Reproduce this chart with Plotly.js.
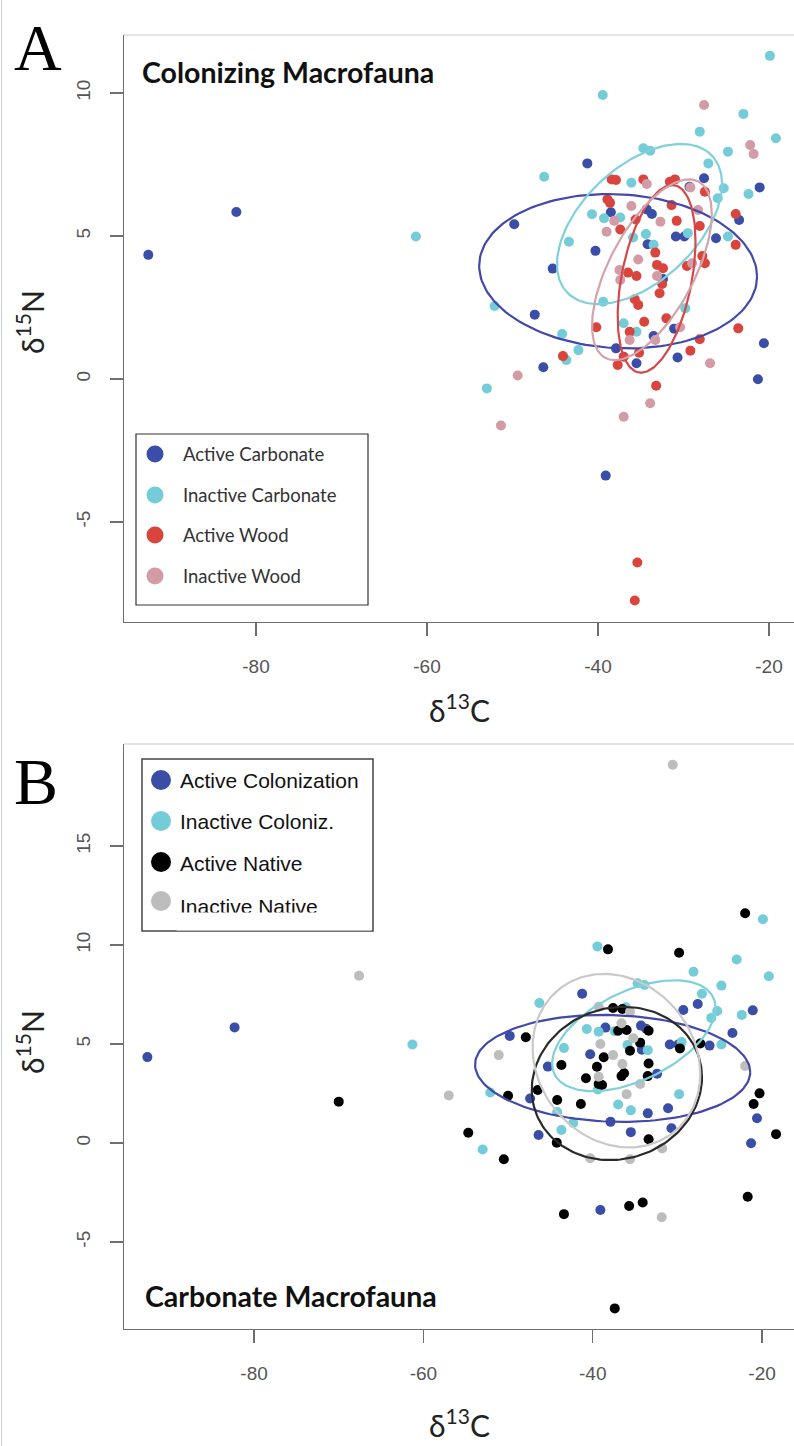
<!DOCTYPE html>
<html><head><meta charset="utf-8">
<script src="https://cdn.plot.ly/plotly-3.0.1.min.js"></script>
<style>
html,body{margin:0;padding:0;background:#fff;overflow:hidden}
#chart{position:absolute;left:0;top:0;width:794px;height:1446px}
#edge{position:absolute;left:1px;top:0;width:1px;height:1446px;background:#cfcfcf}
</style>
</head><body>
<div id="chart"></div><div id="edge"></div>
<script>
// ---------------- DATA ----------------
// Panel A: Colonizing Macrofauna
const seriesA = ["Active Carbonate", "Inactive Carbonate", "Active Wood", "Inactive Wood"];
const colorsA = ["#3a4ea8", "#74ccd9", "#d9443d", "#d29ba5"];

const activeCarbX = [-92.6,-82.3,-49.8,-45.3,-47.4,-46.4,-41.25,-27.6,-21.1,-29.3,-38.5,-34.3,-33.7,-23.5,-40.3,-34.2,-30.9,-29.9,-26.2,-32.4,-31.1,-33.5,-37.9,-35.5,-30.7,-20.6,-21.3,-39.1];
const activeCarbY = [4.34,5.84,5.41,3.86,2.25,0.41,7.54,7.02,6.70,6.72,5.83,5.93,5.77,5.56,4.48,4.71,4.98,4.98,4.92,3.50,1.76,1.50,1.07,0.55,0.75,1.25,-0.01,-3.38];

const inactCarbX = [-61.3,-52.1,-53.0,-46.3,-39.45,-19.9,-23.0,-28.1,-19.2,-34.7,-33.9,-24.8,-27.1,-36.1,-25.3,-22.4,-26.0,-40.7,-39.3,-37.4,-43.4,-35.9,-34.4,-33.5,-29.5,-24.8,-39.4,-37.0,-35.5,-29.8,-44.2,-42.3,-43.7];
const inactCarbY = [4.98,2.55,-0.33,7.07,9.93,11.3,9.27,8.65,8.42,8.07,7.98,7.95,7.54,6.86,6.67,6.47,6.32,5.76,5.62,5.65,4.80,4.95,5.07,4.69,5.10,4.98,2.70,1.95,1.65,2.47,1.57,1.01,0.66];

const activeWoodX = [-38.4,-37.9,-34.7,-31.6,-31.0,-27.5,-38.9,-38.6,-31.4,-23.9,-35.6,-37.4,-30.8,-28.1,-23.9,-33.3,-27.8,-33.1,-32.4,-29.6,-27.5,-36.5,-35.5,-32.5,-32.8,-35.7,-35.3,-34.6,-32.0,-40.2,-36.3,-23.6,-28.1,-29.2,-44.1,-37.0,-37.7,-35.2,-33.2,-35.4,-35.7];
const activeWoodY = [6.98,6.96,6.98,6.90,6.98,6.55,6.28,6.16,6.08,5.77,5.58,5.23,5.53,5.35,4.69,4.42,4.30,3.99,3.87,3.95,4.05,3.72,3.60,3.32,3.00,2.79,2.59,2.00,2.12,1.81,1.65,1.77,1.39,0.99,0.80,0.78,0.49,0.92,-0.24,-6.42,-7.75];

const inactWoodX = [-27.6,-22.2,-21.8,-34.3,-29.2,-36.1,-28.3,-38.1,-39.0,-32.7,-35.3,-37.5,-37.4,-33.1,-29.0,-30.4,-36.3,-33.3,-26.9,-49.4,-51.35,-37.0,-33.9];
const inactWoodY = [9.58,8.18,7.87,6.82,6.70,6.05,5.91,5.53,5.15,5.50,4.18,3.81,3.46,3.60,4.05,1.81,1.36,1.36,0.55,0.12,-1.63,-1.32,-0.85];

// Panel B: Carbonate Macrofauna (colonizers reuse the carbonate series above)
const seriesB = ["Active Colonization", "Inactive Coloniz.", "Active Native", "Inactive Native"];
const colorsB = ["#3a4ea8", "#74ccd9", "#000000", "#bdbdbd"];

const activeNatX = [-70.0,-22.0,-38.2,-29.8,-37.6,-36.5,-47.9,-37.0,-36.0,-33.4,-34.4,-35.6,-38.7,-29.7,-27.3,-33.4,-39.5,-43.7,-40.8,-39.3,-38.9,-36.6,-36.3,-33.5,-46.5,-50.0,-44.2,-41.4,-20.3,-21.0,-54.7,-44.25,-33.4,-50.5,-18.35,-43.4,-35.7,-34.1,-21.7,-37.4];
const activeNatY = [2.09,11.6,9.78,9.61,6.82,6.77,5.34,5.67,5.71,5.67,5.07,4.66,4.33,4.78,5.03,4.02,3.85,3.94,3.27,2.98,2.93,3.38,3.52,3.38,2.68,2.39,2.17,1.97,2.51,1.97,0.52,0.02,0.19,-0.82,0.45,-3.59,-3.18,-3.00,-2.71,-8.35];

const inactNatX = [-30.55,-67.6,-57.0,-51.1,-39.3,-35.6,-36.6,-39.1,-35.2,-37.6,-36.5,-39.3,-34.4,-36.0,-22.0,-31.8,-40.3,-35.6,-31.85];
const inactNatY = [19.1,8.45,2.4,4.44,6.88,6.63,6.05,5.0,5.29,4.44,3.99,3.35,2.98,2.47,3.89,-0.27,-0.77,-0.82,-3.75];

// Standard ellipses (centre, spread, correlation)
const ellA_cx  = [-37.65, -35.15, -33.15, -33.7];
const ellA_cy  = [3.77, 5.42, 3.50, 3.82];
const ellA_sx  = [16.25, 9.65, 4.55, 7.0];
const ellA_sy  = [2.70, 2.80, 3.28, 3.16];
const ellA_rho = [-0.07, 0.50, 0.40, 0.62];

const ellB_cx  = [-37.65, -35.15, -37.15, -37.2];
const ellB_cy  = [3.77, 5.42, 3.01, 4.16];
const ellB_sx  = [16.25, 9.65, 10.05, 9.9];
const ellB_sy  = [2.70, 2.80, 3.87, 4.38];
const ellB_rho = [-0.07, 0.50, 0.08, -0.15];
const ellColorsA = ["#4249a8", "#7fd0dc", "#d6474a", "#d3a3ab"];
const ellColorsB = ["#4249a8", "#7fd0dc", "#2a2a2a", "#c9c9c9"];

const xTickVals = [-80, -60, -40, -20];
const xTickText = ["-80", "-60", "-40", "-20"];
const yTickValsA = [-5, 0, 5, 10];
const yTickTextA = ["-5", "0", "5", "10"];
const yTickValsB = [-5, 0, 5, 10, 15];
const yTickTextB = ["-5", "0", "5", "10", "15"];

// ---------------- LAYOUT GEOMETRY ----------------
const W = 794, H = 1446, ML = 124, MR = 0, MT = 35, MB = 117;
const PW = W - ML - MR, PH = H - MT - MB;
const pxX = x => (x - ML) / PW;
const pxY = y => (H - MB - y) / PH;

function ellipse(cx, cy, sx, sy, rho) {
  const xs = [], ys = [], n = 160, s = Math.sqrt(1 - rho * rho);
  for (let i = 0; i <= n; i++) {
    const t = 2 * Math.PI * i / n;
    xs.push(cx + sx * Math.cos(t));
    ys.push(cy + sy * (rho * Math.cos(t) + s * Math.sin(t)));
  }
  return {xs, ys};
}

const traces = [];
function pts(x, y, color, xa, ya, size) {
  traces.push({type: 'scatter', mode: 'markers', x, y, xaxis: xa, yaxis: ya,
    marker: {color, size: size, line: {width: 0}}, showlegend: false, hoverinfo: 'x+y'});
}
const dataA = [[activeCarbX, activeCarbY], [inactCarbX, inactCarbY], [activeWoodX, activeWoodY], [inactWoodX, inactWoodY]];
dataA.forEach((d, i) => pts(d[0], d[1], colorsA[i], 'x', 'y', 10));
for (let i = 0; i < 4; i++) {
  const e = ellipse(ellA_cx[i], ellA_cy[i], ellA_sx[i], ellA_sy[i], ellA_rho[i]);
  traces.push({type: 'scatter', mode: 'lines', x: e.xs, y: e.ys, xaxis: 'x', yaxis: 'y',
    line: {color: ellColorsA[i], width: 2.2}, showlegend: false, hoverinfo: 'skip'});
}
const dataB = [[activeCarbX, activeCarbY], [inactCarbX, inactCarbY], [activeNatX, activeNatY], [inactNatX, inactNatY]];
dataB.forEach((d, i) => pts(d[0], d[1], colorsB[i], 'x2', 'y2', 10));
for (let i = 0; i < 4; i++) {
  const e = ellipse(ellB_cx[i], ellB_cy[i], ellB_sx[i], ellB_sy[i], ellB_rho[i]);
  traces.push({type: 'scatter', mode: 'lines', x: e.xs, y: e.ys, xaxis: 'x2', yaxis: 'y2',
    line: {color: ellColorsB[i], width: 2.2}, showlegend: false, hoverinfo: 'skip'});
}

const axCommon = {
  showline: true, linecolor: '#6f6f6f', linewidth: 1.2, mirror: false,
  ticks: 'outside', ticklen: 13, tickcolor: '#6f6f6f', tickwidth: 1.2,
  showgrid: false, zeroline: false, fixedrange: true, tickmode: 'array',
  tickfont: {family: 'Liberation Sans, Arial, sans-serif', size: 19, color: '#555'}
};

const shapes = [];
const annotations = [];
// top frame lines
shapes.push({type: 'line', xref: 'paper', yref: 'paper', x0: 0, x1: 1.01, y0: pxY(35), y1: pxY(35), line: {color: '#c8c8c8', width: 1.2}});
shapes.push({type: 'line', xref: 'paper', yref: 'paper', x0: 0, x1: 1.01, y0: pxY(744), y1: pxY(744), line: {color: '#c8c8c8', width: 1.2}});

function legend(box, names, colors, rowsY, textY, mx, r, tx, font, boxColor, boxW) {
  shapes.push({type: 'rect', xref: 'paper', yref: 'paper', x0: pxX(box[0]), x1: pxX(box[2]), y0: pxY(box[3]), y1: pxY(box[1]),
    line: {color: boxColor, width: boxW}, fillcolor: 'rgba(255,255,255,0)', layer: 'above'});
  names.forEach((n, i) => {
    shapes.push({type: 'circle', xref: 'paper', yref: 'paper', xsizemode: 'pixel', ysizemode: 'pixel',
      xanchor: pxX(mx), yanchor: pxY(rowsY[i]), x0: -r, x1: r, y0: -r, y1: r,
      fillcolor: colors[i], line: {width: 0}, layer: 'above'});
    annotations.push({xref: 'paper', yref: 'paper', x: pxX(tx), y: pxY(textY[i]), xanchor: 'left', yanchor: 'middle',
      text: n, showarrow: false, font: font});
  });
}
legend([136, 434, 368, 605], seriesA, colorsA, [454, 495, 535, 576], [454, 495, 535, 576], 155, 8.5, 181,
  {family: 'Lato, Open Sans, sans-serif', size: 18.5, color: '#333'}, '#333', 1.2);
legend([142, 759, 373, 931], seriesB, colorsB, [780, 821, 862, 901], [780, 822, 863, 906], 161, 10, 178,
  {family: 'Liberation Sans, Arial, sans-serif', size: 21, color: '#111'}, '#444', 1.5);
// the last legend label is clipped by the legend box in the reference
annotations.push({xref: 'paper', yref: 'paper', x: pxX(176), y: pxY(912), xanchor: 'left', yanchor: 'top',
  text: '.', showarrow: false, bgcolor: '#ffffff', width: 194, height: 17, borderpad: 0,
  font: {size: 10, color: '#ffffff'}});

// panel letters
const letterFont = {family: 'Liberation Serif, Times New Roman, serif', size: 66, color: '#000'};
annotations.push({xref: 'paper', yref: 'paper', x: pxX(12), y: pxY(86), xanchor: 'left', yanchor: 'bottom',
  text: 'A', showarrow: false, font: letterFont});
annotations.push({xref: 'paper', yref: 'paper', x: pxX(12), y: pxY(820), xanchor: 'left', yanchor: 'bottom',
  text: 'B', showarrow: false, font: letterFont});
// panel titles
annotations.push({xref: 'paper', yref: 'paper', x: pxX(140), y: pxY(72), xanchor: 'left', yanchor: 'middle',
  text: '<b>Colonizing Macrofauna</b>', showarrow: false, font: {family: 'Lato, Open Sans, sans-serif', size: 28.5, color: '#111'}});
annotations.push({xref: 'paper', yref: 'paper', x: pxX(143), y: pxY(1296), xanchor: 'left', yanchor: 'middle',
  text: '<b>Carbonate Macrofauna</b>', showarrow: false, font: {family: 'Lato, Open Sans, sans-serif', size: 28.5, color: '#111'}});
// axis titles
const titleFont = {family: 'Lato, Open Sans, sans-serif', size: 30, color: '#222'};
annotations.push({xref: 'paper', yref: 'paper', x: pxX(459), y: pxY(708), xanchor: 'center', yanchor: 'middle',
  text: 'δ<sup>13</sup>C', showarrow: false, font: titleFont});
annotations.push({xref: 'paper', yref: 'paper', x: pxX(459), y: pxY(1423), xanchor: 'center', yanchor: 'middle',
  text: 'δ<sup>13</sup>C', showarrow: false, font: titleFont});
annotations.push({xref: 'paper', yref: 'paper', x: pxX(30), y: pxY(322), xanchor: 'center', yanchor: 'middle', textangle: -90,
  text: 'δ<sup>15</sup>N', showarrow: false, font: titleFont});
annotations.push({xref: 'paper', yref: 'paper', x: pxX(30), y: pxY(1042), xanchor: 'center', yanchor: 'middle', textangle: -90,
  text: 'δ<sup>15</sup>N', showarrow: false, font: titleFont});

const layout = {
  width: W, height: H, margin: {l: ML, r: MR, t: MT, b: MB},
  paper_bgcolor: '#fff', plot_bgcolor: '#fff', showlegend: false,
  xaxis: Object.assign({}, axCommon, {domain: [0, 1], anchor: 'y', range: [-95.44, -17.08], tickvals: xTickVals, ticktext: xTickText, ticklabelstandoff: 14}),
  yaxis: Object.assign({}, axCommon, {domain: [pxY(622), 1], anchor: 'x', range: [-8.50, 12.03], tickvals: yTickValsA, ticktext: yTickTextA, tickangle: -90, ticklabelstandoff: 12}),
  xaxis2: Object.assign({}, axCommon, {domain: [0, 1], anchor: 'y2', range: [-95.36, -16.23], tickvals: xTickVals, ticktext: xTickText, ticklabelstandoff: 14}),
  yaxis2: Object.assign({}, axCommon, {domain: [0, pxY(744)], anchor: 'x2', range: [-9.39, 20.15], tickvals: yTickValsB, ticktext: yTickTextB, tickangle: -90, ticklabelstandoff: 12}),
  shapes, annotations
};
Plotly.newPlot('chart', traces, layout, {staticPlot: true, displayModeBar: false});
</script>
</body></html>
